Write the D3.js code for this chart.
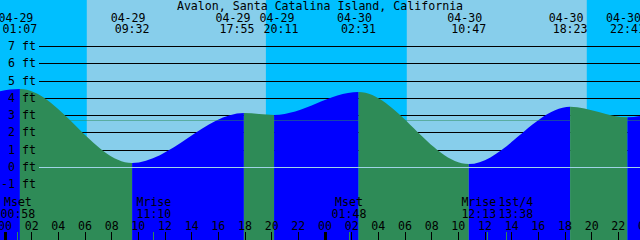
<!DOCTYPE html>
<html>
<head>
<meta charset="utf-8">
<script src="https://cdn.jsdelivr.net/npm/d3@7"></script>
<style>
  html, body { margin: 0; padding: 0; background: #fff; }
  svg { display: block; }
  text { font-family: "DejaVu Sans Mono", monospace; font-size: 11.6px; fill: #000; }
</style>
</head>
<body>
<script>
// ---------------- data ----------------
const title = "Avalon, Santa Catalina Island, California";

// labelled high / low tides (local time) and heights in feet
const tideTimes   = ["2023-04-29 01:07", "2023-04-29 09:32", "2023-04-29 17:55", "2023-04-29 20:11",
                     "2023-04-30 02:31", "2023-04-30 10:47", "2023-04-30 18:23", "2023-04-30 22:41"];
const tideHeights = [4.54, 0.26, 3.15, 3.04, 4.37, 0.20, 3.52, 2.90];
// extremes just outside the visible window (estimated)
const edgeTimes   = ["2023-04-28 19:20", "2023-05-01 03:20"];
const edgeHeights = [3.10, 4.20];

const sunriseTimes = ["2023-04-29 06:08", "2023-04-30 06:08"];
const sunsetTimes  = ["2023-04-29 19:34", "2023-04-30 19:38"];

const moonNames = ["Mset", "Mrise", "Mset", "Mrise", "1st/4"];
const moonTimes = ["2023-04-29 00:58", "2023-04-29 11:10", "2023-04-30 01:48", "2023-04-30 12:13", "2023-04-30 13:38"];

const depthLevels = [-1, 0, 1, 2, 3, 4, 5, 6, 7];
const meanSeaLevel = 2.72;

const windowStart = "2023-04-28 23:37:30";
const windowEnd   = "2023-04-30 23:37:30";

// ---------------- setup ----------------
(function () {
const W = 640, H = 240;
const parse = d3.timeParse("%Y-%m-%d %H:%M");
const parseS = d3.timeParse("%Y-%m-%d %H:%M:%S");
const fmtDate = d3.timeFormat("%m-%d");
const fmtTime = d3.timeFormat("%H:%M");
const fmtHour = d3.timeFormat("%H");

const x = d3.scaleTime().domain([parseS(windowStart), parseS(windowEnd)]).range([0, W]);
const y = d3.scaleLinear().domain([0, 7]).range([167.5, 46.5]);

const svg = d3.select("body").append("svg").attr("width", W).attr("height", H);

const COL_NIGHT = "#00BFFF", COL_DAY = "#87CEEB", COL_RISE = "#0000FF", COL_FALL = "#2E8B57";

// sky
svg.append("rect").attr("x", 0).attr("y", 0).attr("width", W).attr("height", H).attr("fill", COL_NIGHT);
svg.selectAll("rect.day").data(d3.zip(sunriseTimes, sunsetTimes)).join("rect")
  .attr("class", "day")
  .attr("x", d => x(parse(d[0])))
  .attr("y", 0)
  .attr("width", d => x(parse(d[1])) - x(parse(d[0])))
  .attr("height", H)
  .attr("fill", COL_DAY);

const crisp = v => Math.floor(v) + 0.5;
const lineX0 = 39;

// depth lines behind the water
svg.selectAll("line.depth").data(depthLevels.filter(d => d > 0)).join("line")
  .attr("class", "depth")
  .attr("x1", lineX0).attr("x2", W)
  .attr("y1", d => crisp(y(d))).attr("y2", d => crisp(y(d)))
  .attr("stroke", "#000").attr("stroke-width", 1);

// water
const pts = [
  { t: parse(edgeTimes[0]), h: edgeHeights[0] },
  ...tideTimes.map((t, i) => ({ t: parse(t), h: tideHeights[i] })),
  { t: parse(edgeTimes[1]), h: edgeHeights[1] }
];
const area = d3.area().x(d => x(d.t)).y0(H).y1(d => y(d.h)).curve(d3.curveMonotoneX);
svg.append("clipPath").attr("id", "water").append("path").attr("d", area(pts));

const segs = d3.pairs(pts);
svg.append("g").attr("clip-path", "url(#water)")
  .selectAll("rect").data(segs).join("rect")
  .attr("x", d => x(d[0].t))
  .attr("y", 0)
  .attr("width", d => x(d[1].t) - x(d[0].t))
  .attr("height", H)
  .attr("fill", d => d[1].h > d[0].h ? COL_RISE : COL_FALL);

// datum (0 ft) and mean sea level lines
svg.append("line").attr("x1", lineX0).attr("x2", W)
  .attr("y1", crisp(y(0))).attr("y2", crisp(y(0)))
  .attr("stroke", "#9fd3e6").attr("stroke-width", 1);
svg.append("line").attr("x1", lineX0).attr("x2", W)
  .attr("y1", crisp(y(meanSeaLevel))).attr("y2", crisp(y(meanSeaLevel)))
  .attr("stroke", COL_FALL).attr("stroke-opacity", 0.5).attr("stroke-width", 1);

// depth labels
svg.selectAll("text.depth").data(depthLevels).join("text")
  .attr("class", "depth")
  .attr("x", 36).attr("y", d => Math.floor(y(d)) + 4)
  .attr("text-anchor", "end")
  .text(d => `${d} ft`);

// title
svg.append("text").attr("x", W / 2).attr("y", 9.5).attr("text-anchor", "middle").text(title);

function spread(xs, gap) {
  const out = xs.slice();
  for (let i = 1; i < out.length; i++) {
    const d = out[i] - out[i - 1];
    if (d < gap) { const s = (gap - d) / 2; out[i - 1] -= s; out[i] += s; }
  }
  return out;
}

// tide event labels (top)
const tideDates = tideTimes.map(parse);
const topX = spread(tideDates.map(d => x(d)), 44);
const gTop = svg.append("g");
tideDates.forEach((d, i) => {
  gTop.append("text").attr("x", topX[i] - 4).attr("y", 21.5).attr("text-anchor", "middle").text(fmtDate(d));
  gTop.append("text").attr("x", topX[i]).attr("y", 33).attr("text-anchor", "middle").text(fmtTime(d));
});

// moon event labels (bottom)
const moonDates = moonTimes.map(parse);
const botX = spread(moonDates.map(d => x(d)), 37);
const gBot = svg.append("g");
moonDates.forEach((d, i) => {
  gBot.append("text").attr("x", botX[i]).attr("y", 206).attr("text-anchor", "middle").text(moonNames[i]);
  gBot.append("text").attr("x", botX[i]).attr("y", 218).attr("text-anchor", "middle").text(fmtTime(d));
});

// hour axis
const hours = d3.timeHour.every(2).range(parse("2023-04-29 00:00"), parse("2023-05-01 00:01"));
svg.selectAll("text.hour").data(hours).join("text")
  .attr("class", "hour")
  .attr("x", d => x(d)).attr("y", 229.5)
  .attr("text-anchor", "middle")
  .text(d => fmtHour(d));
svg.selectAll("rect.tick").data(hours).join("rect")
  .attr("class", "tick")
  .attr("x", d => d.getHours() === 0 ? x(d) - 1 : Math.floor(x(d)))
  .attr("y", 232)
  .attr("width", d => d.getHours() === 0 ? 3 : 1)
  .attr("height", 8)
  .attr("fill", "#000");

// moon marks
svg.selectAll("rect.moon").data(moonDates).join("rect")
  .attr("class", "moon")
  .attr("x", d => Math.floor(x(d)))
  .attr("y", 232).attr("width", 1).attr("height", 8)
  .attr("fill", COL_FALL);
})();
</script>
</body>
</html>
